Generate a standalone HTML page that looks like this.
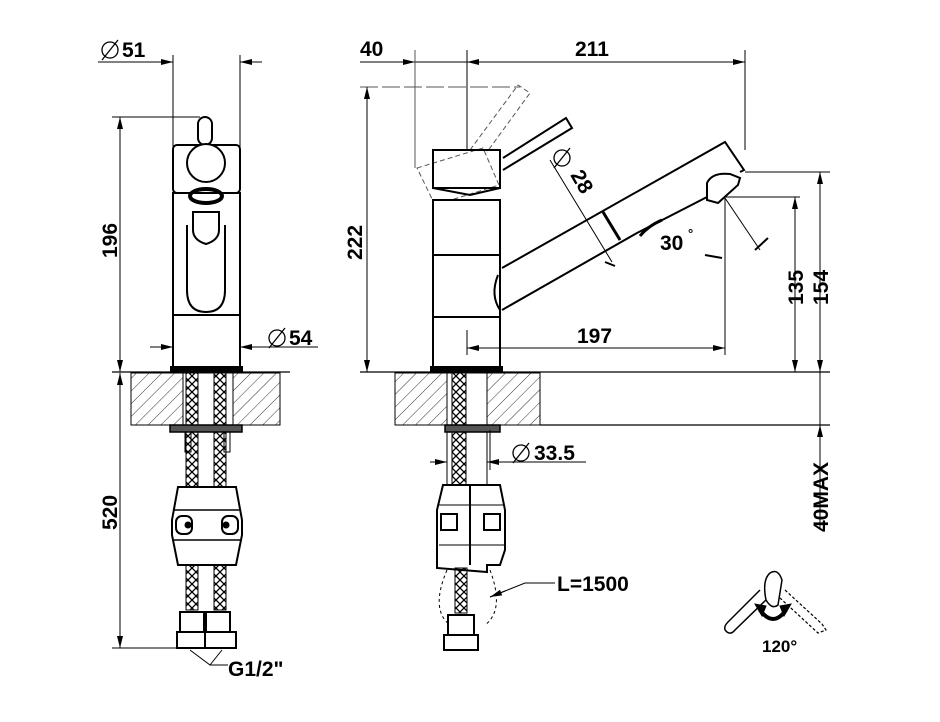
<!DOCTYPE html>
<html><head><style>
html,body{margin:0;padding:0;background:#fff;width:940px;height:722px;overflow:hidden}
svg text{font-family:"Liberation Sans",Arial,sans-serif;font-weight:bold;fill:#000}
</style></head><body>
<svg width="940" height="722" viewBox="0 0 940 722" xmlns="http://www.w3.org/2000/svg">
<defs>
<pattern id="h" width="9" height="9" patternUnits="userSpaceOnUse" patternTransform="rotate(45)">
<line x1="0" y1="0" x2="0" y2="9" stroke="#333" stroke-width="1"/>
</pattern>
<pattern id="braid" width="8" height="8" patternUnits="userSpaceOnUse">
<path d="M0 0L8 8M8 0L0 8" stroke="#000" stroke-width="1.3"/>
</pattern>
<marker id="a" markerWidth="12" markerHeight="6" refX="12" refY="3" orient="auto" markerUnits="userSpaceOnUse">
<path d="M0 0L12 3L0 6z" fill="#000"/></marker>
<g id="dia"><circle cx="0" cy="0" r="8" fill="none" stroke="#000" stroke-width="1.3"/><line x1="-8" y1="10" x2="8" y2="-10" stroke="#000" stroke-width="1.3"/></g>
</defs>
<g fill="none" stroke="#000" stroke-width="1">
<!-- ===== LEFT VIEW ===== -->
<line x1="98" y1="62" x2="173" y2="62"/>
<line x1="150" y1="62" x2="173" y2="62" marker-end="url(#a)"/>
<line x1="262" y1="62" x2="240" y2="62" marker-end="url(#a)"/>
<line x1="173" y1="55" x2="173" y2="150"/>
<line x1="240" y1="55" x2="240" y2="150"/>
<line x1="112" y1="117" x2="200" y2="117"/>
<line x1="120" y1="117" x2="120" y2="372"/>
<line x1="120" y1="135" x2="120" y2="117" marker-end="url(#a)"/>
<line x1="120" y1="355" x2="120" y2="372" marker-end="url(#a)"/>
<line x1="120" y1="390" x2="120" y2="373" marker-end="url(#a)"/>
<line x1="120" y1="373" x2="120" y2="648"/>
<line x1="120" y1="630" x2="120" y2="648" marker-end="url(#a)"/>
<line x1="112" y1="648" x2="200" y2="648"/>
<line x1="150" y1="347" x2="173" y2="347" marker-end="url(#a)"/>
<line x1="262" y1="347" x2="240" y2="347" marker-end="url(#a)"/>
<line x1="240" y1="347" x2="318" y2="347"/>
<g stroke-width="2">
<rect x="198" y="117" width="14" height="28" rx="7"/>
<rect x="173" y="145" width="67" height="48" rx="4"/>
<circle cx="206" cy="163" r="19" fill="#fff"/>
<line x1="173" y1="193" x2="240" y2="193"/>
<rect x="173" y="193" width="67" height="122"/>
<path d="M187 225 L187 290 Q187 312 206 312 Q225 312 225 290 L225 225"/>
<ellipse cx="206" cy="196" rx="16" ry="7" stroke-width="4"/>
<path d="M193 212 L219 212 L219 230 Q219 240 206 244 Q193 240 193 230Z"/>
<rect x="173" y="315" width="67" height="52"/>
<rect x="171" y="367" width="71" height="5" fill="#000"/>
</g>
<rect x="131" y="373" width="149" height="52" fill="url(#h)"/>
<line x1="112" y1="372" x2="290" y2="372" stroke-width="1.3"/>
<rect x="183" y="373" width="50" height="52" fill="#fff"/>
<rect x="186" y="373" width="12" height="115" fill="url(#braid)"/>
<rect x="214" y="373" width="12" height="115" fill="url(#braid)"/>
<rect x="170" y="425" width="72" height="7" fill="#555" stroke-width="1.5"/>
<rect x="185" y="432" width="6" height="20"/><rect x="224" y="432" width="6" height="20"/>
<path d="M178 487 L236 487 L242 520 L242 535 L236 565 L178 565 L172 535 L172 520Z" stroke-width="2" fill="#fff"/>
<line x1="174" y1="510" x2="240" y2="510" stroke-width="1.5"/>
<line x1="174" y1="540" x2="240" y2="540" stroke-width="1.5"/>
<rect x="176" y="516" width="16" height="18" rx="6" stroke-width="2"/><circle cx="188" cy="525" r="3" fill="#000"/>
<rect x="222" y="516" width="16" height="18" rx="6" stroke-width="2"/><circle cx="226" cy="525" r="3" fill="#000"/>
<rect x="186" y="565" width="12" height="45" fill="url(#braid)"/>
<rect x="214" y="565" width="12" height="45" fill="url(#braid)"/>
<g stroke-width="2">
<rect x="180" y="612" width="24" height="20"/><rect x="206" y="612" width="24" height="20"/>
<rect x="177" y="632" width="28" height="16"/><rect x="205" y="632" width="31" height="16"/>
</g>
<path d="M190 650 L210 665 L228 665 M210 665 L222 650"/>
<!-- ===== RIGHT VIEW ===== -->
<line x1="360" y1="62" x2="745" y2="62"/>
<line x1="395" y1="62" x2="415" y2="62" marker-end="url(#a)"/>
<line x1="490" y1="62" x2="467" y2="62" marker-end="url(#a)"/>
<line x1="720" y1="62" x2="745" y2="62" marker-end="url(#a)"/>
<line x1="415" y1="50" x2="415" y2="168" stroke="#555"/>
<line x1="467" y1="50" x2="467" y2="150"/>
<line x1="745" y1="50" x2="745" y2="150"/>
<line x1="360" y1="87" x2="520" y2="87" stroke-dasharray="18 4" stroke="#555"/>
<line x1="367" y1="87" x2="367" y2="372"/>
<line x1="367" y1="105" x2="367" y2="87" marker-end="url(#a)"/>
<line x1="367" y1="355" x2="367" y2="372" marker-end="url(#a)"/>
<line x1="467" y1="330" x2="467" y2="355"/>
<line x1="467" y1="348" x2="725" y2="348"/>
<line x1="490" y1="348" x2="467" y2="348" marker-end="url(#a)"/>
<line x1="705" y1="348" x2="725" y2="348" marker-end="url(#a)"/>
<line x1="725" y1="198" x2="725" y2="355"/>
<line x1="745" y1="172" x2="830" y2="172"/>
<line x1="725" y1="197" x2="800" y2="197"/>
<line x1="795" y1="197" x2="795" y2="372"/>
<line x1="795" y1="215" x2="795" y2="197" marker-end="url(#a)"/>
<line x1="795" y1="355" x2="795" y2="372" marker-end="url(#a)"/>
<line x1="820" y1="172" x2="820" y2="530"/>
<line x1="820" y1="190" x2="820" y2="172" marker-end="url(#a)"/>
<line x1="820" y1="355" x2="820" y2="372" marker-end="url(#a)"/>
<line x1="820" y1="442" x2="820" y2="425" marker-end="url(#a)"/>
<line x1="360" y1="372" x2="830" y2="372" stroke-width="1.3"/>
<line x1="540" y1="425" x2="830" y2="425" stroke-width="1.3"/>
<line x1="725" y1="198" x2="760" y2="250"/>
<line x1="755" y1="250" x2="768" y2="238" stroke-width="2"/>
<line x1="705" y1="255" x2="722" y2="258" stroke-width="2"/>
<line x1="550" y1="160" x2="612" y2="262"/>
<line x1="605" y1="262" x2="615" y2="266" stroke-width="2"/>
<g stroke="#555" stroke-dasharray="5 3">
<path d="M417 168 L483 148 L499 185 L435 205Z"/>
<path d="M470 150 L518 85 L530 93 L487 152"/>
</g>
<g stroke-width="2">
<path d="M503 158 L566 118 L572 128 L503 170"/>
<rect x="433" y="150" width="67" height="38"/>
<path d="M433 188 L470 195 L500 188"/>
<path d="M438 200 L496 200"/>
<rect x="433" y="200" width="67" height="55" fill="#fff"/>
<rect x="433" y="255" width="67" height="62"/>
<rect x="433" y="317" width="67" height="50"/>
<rect x="431" y="367" width="71" height="5" fill="#000"/>
<path d="M502 268 L725 142 L744 170 L740 172"/>
<path d="M502 310 L637 233 L707 197"/>
<path d="M498 275 Q490 295 500 310"/>
<path d="M603 212 L620 240" stroke-width="3"/>
<path d="M707 183 Q712 172 730 174 L740 178 L738 185 L718 203 L707 200Z"/>
<path d="M640 236 Q648 226 662 220" stroke-width="3"/>
</g>
<rect x="395" y="373" width="145" height="52" fill="url(#h)"/>
<rect x="447" y="373" width="40" height="52" fill="#fff"/>
<rect x="452" y="373" width="14" height="112" fill="url(#braid)"/>
<line x1="447" y1="373" x2="447" y2="485"/><line x1="487" y1="373" x2="487" y2="485"/>
<rect x="445" y="425" width="55" height="7" fill="#555" stroke-width="1.5"/>
<line x1="430" y1="462" x2="447" y2="462" marker-end="url(#a)"/>
<line x1="508" y1="462" x2="487" y2="462" marker-end="url(#a)"/>
<line x1="487" y1="462" x2="586" y2="462"/>
<line x1="490" y1="430" x2="490" y2="470"/>
<path d="M443 485 L500 485 L505 510 L505 550 L500 565 L487 565 L487 572 L437 568 L437 510Z" stroke-width="2" fill="#fff"/>
<line x1="470" y1="485" x2="470" y2="565" stroke-width="2"/>
<line x1="439" y1="505" x2="505" y2="505"/><line x1="439" y1="545" x2="505" y2="545"/>
<rect x="441" y="514" width="16" height="16" stroke-width="2"/>
<rect x="484" y="514" width="16" height="16" stroke-width="2"/>
<rect x="455" y="568" width="12" height="45" fill="url(#braid)"/>
<path d="M447 570 Q430 610 450 625 M490 570 Q505 610 485 625" stroke-dasharray="3 3"/>
<path d="M555 583 L525 583 L490 597" />
<line x1="505" y1="591" x2="490" y2="597" marker-end="url(#a)"/>
<g stroke-width="2">
<rect x="448" y="615" width="26" height="20"/><rect x="444" y="635" width="34" height="15"/>
</g>
<path d="M760 590 L728 622 Q722 628 727 632 Q731 635 735 630 L768 598" stroke-width="1.5"/>
<path d="M785 590 L822 624 L826 630 L818 633 L780 598" stroke-dasharray="3 2" stroke-width="1.2"/>
<path d="M766 600 Q762 580 770 573 Q778 568 782 580 L778 605 Q772 610 766 600Z" stroke-width="1.5" fill="#fff"/>
<path d="M760 610 Q773 628 786 610" stroke-width="4"/>
<path d="M755 604 L762 616 L766 606Z M791 604 L784 616 L780 606Z" fill="#000"/>
</g>
<use href="#dia" x="110" y="50"/>
<use href="#dia" x="277" y="338"/>
<use href="#dia" x="521" y="453"/>
<use href="#dia" x="562" y="158"/>
<g font-size="21">
<text x="122" y="57">51</text>
<text x="289" y="345">54</text>
<text transform="translate(117,258) rotate(-90)">196</text>
<text transform="translate(117,530) rotate(-90)">520</text>
<text x="228" y="676">G1/2"</text>
<text x="360" y="56">40</text>
<text x="575" y="56">211</text>
<text transform="translate(362,260) rotate(-90)">222</text>
<text x="577" y="343">197</text>
<text x="660" y="250">30</text><text x="688" y="238" font-size="13" font-weight="normal">°</text>
<text transform="translate(570,175) rotate(60)">28</text>
<text transform="translate(803,305) rotate(-90)">135</text>
<text transform="translate(828,305) rotate(-90)">154</text>
<text x="534" y="460">33.5</text>
<text x="557" y="591">L=1500</text>
<text transform="translate(828,532) rotate(-90)">40MAX</text>
<text x="762" y="652" font-size="17">120°</text>
</g>
</svg>
</body></html>
